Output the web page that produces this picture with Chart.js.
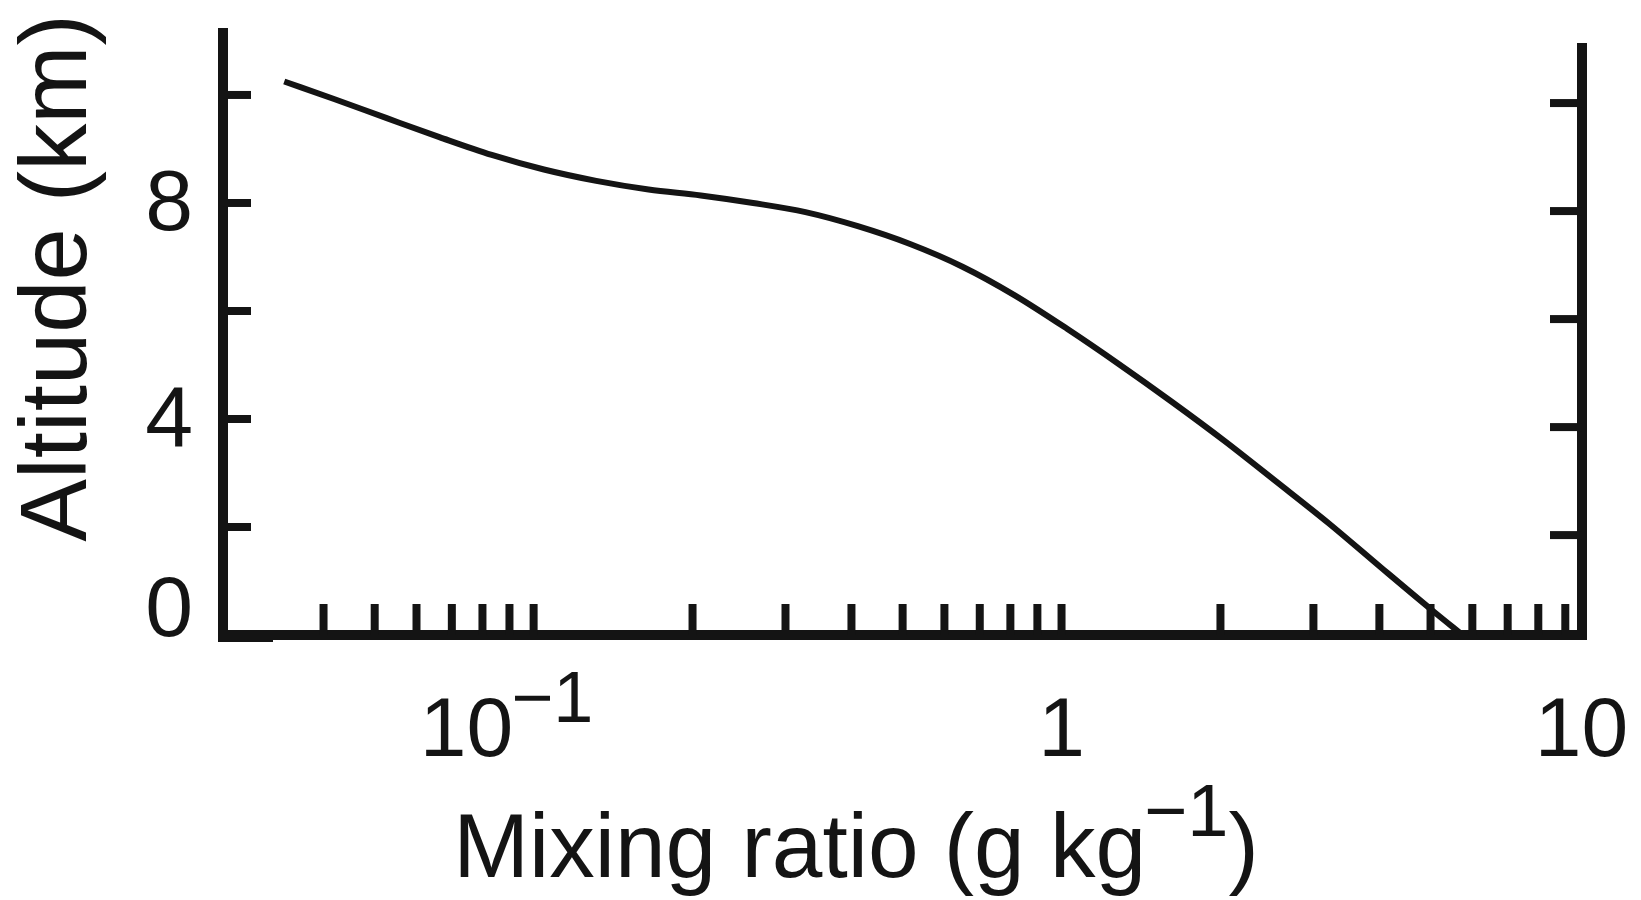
<!DOCTYPE html>
<html>
<head>
<meta charset="utf-8">
<title>Mixing ratio profile</title>
<script src="https://cdn.jsdelivr.net/npm/chart.js@4/dist/chart.umd.min.js"></script>
<style>
  html, body { margin: 0; padding: 0; background: #fff; }
  #wrap { width: 1641px; height: 900px; position: relative; }
</style>
</head>
<body>
<div id="wrap"><canvas id="myChart"></canvas></div>
<script>
// values (g/kg vs km)
const mixingRatio = [0.0337, 0.042, 0.0527, 0.0663, 0.0833, 0.1046, 0.1314, 0.1651, 0.2074, 0.2605, 0.3273, 0.4112, 0.5165, 0.6492, 0.8154, 1.0245, 1.287, 1.617, 2.032, 2.552, 3.206, 4.028, 5.06, 5.75];
const altitude    = [10.25, 9.92, 9.57, 9.22, 8.89, 8.62, 8.41, 8.25, 8.14, 8.00, 7.83, 7.57, 7.24, 6.82, 6.29, 5.67, 5.01, 4.32, 3.60, 2.84, 2.07, 1.25, 0.44, 0];

const xTicks = [0.04, 0.05, 0.06, 0.07, 0.08, 0.09, 0.1, 0.2, 0.3, 0.4, 0.5, 0.6, 0.7, 0.8, 0.9, 1, 2, 3, 4, 5, 6, 7, 8, 9];
const xLabels = [ { v: 0.1, base: '10', sup: '\u22121' }, { v: 1, base: '1', sup: '' }, { v: 10, base: '10', sup: '' } ];
const yTicks = [2, 4, 6, 8, 10];
const yLabels = [0, 4, 8];
const rightTicks = [2, 4, 6, 8, 10];

const FONT = '"Liberation Sans", Arial, Helvetica, sans-serif';
const INK = '#141414';

// axes, inward ticks and all texts are drawn here
const framePlugin = {
  id: 'framePlugin',
  afterDraw(chart) {
    const ctx = chart.ctx;
    const x = chart.scales.x, y = chart.scales.y, y2 = chart.scales.y2;
    const a = chart.chartArea;
    ctx.save();
    ctx.strokeStyle = INK;
    ctx.fillStyle = INK;
    ctx.lineCap = 'butt';

    // left axis + corner piece
    ctx.lineWidth = 10;
    ctx.beginPath();
    ctx.moveTo(a.left, a.top);
    ctx.lineTo(a.left, a.bottom + 7);
    ctx.stroke();
    ctx.lineWidth = 12;
    ctx.beginPath();
    ctx.moveTo(a.left - 5, a.bottom + 1);
    ctx.lineTo(a.left + 50, a.bottom + 1);
    ctx.stroke();
    // bottom axis
    ctx.lineWidth = 10;
    ctx.beginPath();
    ctx.moveTo(a.left + 48, a.bottom);
    ctx.lineTo(a.right + 5, a.bottom);
    ctx.stroke();
    // right axis
    ctx.beginPath();
    ctx.moveTo(a.right, a.top + 15);
    ctx.lineTo(a.right, a.bottom);
    ctx.stroke();

    // ticks
    ctx.lineWidth = 8;
    xTicks.forEach(v => {
      const px = x.getPixelForValue(v);
      ctx.beginPath();
      ctx.moveTo(px, a.bottom);
      ctx.lineTo(px, a.bottom - 31);
      ctx.stroke();
    });
    yTicks.forEach(v => {
      const py = y.getPixelForValue(v);
      ctx.beginPath();
      ctx.moveTo(a.left, py);
      ctx.lineTo(a.left + 28, py);
      ctx.stroke();
    });
    rightTicks.forEach(v => {
      const py = y2.getPixelForValue(v);
      ctx.beginPath();
      ctx.moveTo(a.right, py);
      ctx.lineTo(a.right - 32, py);
      ctx.stroke();
    });

    // y tick labels
    ctx.font = '86px ' + FONT;
    ctx.textAlign = 'right';
    ctx.textBaseline = 'middle';
    yLabels.forEach(v => {
      let py = y.getPixelForValue(v);
      if (v === 0) py -= 26; // sits above the corner in the original
      ctx.fillText(String(v), a.left - 30, py + 3);
    });

    // x tick labels with superscripts
    ctx.textBaseline = 'alphabetic';
    ctx.textAlign = 'left';
    xLabels.forEach(l => {
      ctx.font = '84px ' + FONT;
      const wb = ctx.measureText(l.base).width;
      ctx.font = '72px ' + FONT;
      const ws = l.sup ? ctx.measureText(l.sup).width : 0;
      let left = x.getPixelForValue(l.v) - (wb + ws) / 2;
      if (l.sup) left -= 26;
      if (l.v === 10) left -= 8;
      ctx.font = '84px ' + FONT;
      ctx.fillText(l.base, left, 756);
      if (l.sup) {
        ctx.font = '72px ' + FONT;
        ctx.fillText(l.sup, left + wb - 2, 722);
      }
    });

    // x axis title
    const t1 = 'Mixing ratio (g kg', t2 = '\u22121', t3 = ')';
    ctx.font = '91px ' + FONT;
    const w1 = ctx.measureText(t1).width;
    const w3 = ctx.measureText(t3).width;
    ctx.font = '74px ' + FONT;
    const w2 = ctx.measureText(t2).width;
    const tl = 857 - (w1 + w2 + w3) / 2;
    ctx.font = '91px ' + FONT;
    ctx.fillText(t1, tl, 877);
    ctx.fillText(t3, tl + w1 + w2 - 2, 877);
    ctx.font = '74px ' + FONT;
    ctx.fillText(t2, tl + w1 - 2, 836);

    // y axis title
    ctx.save();
    ctx.translate(86, 278);
    ctx.rotate(-Math.PI / 2);
    ctx.font = '94px ' + FONT;
    ctx.textAlign = 'center';
    ctx.fillText('Altitude (km)', 0, 0);
    ctx.restore();

    ctx.restore();
  }
};

const points = mixingRatio.map((v, i) => ({ x: v, y: altitude[i] }));

new Chart(document.getElementById('myChart'), {
  type: 'line',
  data: {
    datasets: [{
      label: 'Mixing ratio',
      data: points,
      borderColor: INK,
      borderWidth: 6,
      pointRadius: 0,
      cubicInterpolationMode: 'monotone',
      fill: false
    }]
  },
  options: {
    responsive: true,
    maintainAspectRatio: false,
    animation: false,
    events: [],
    layout: { padding: { left: 223, right: 59, top: 28, bottom: 265 } },
    plugins: { legend: { display: false }, tooltip: { enabled: false } },
    scales: {
      x: { type: 'logarithmic', min: 0.0258, max: 9.68, display: false },
      y: { type: 'linear', min: 0, max: 11.24, display: false },
      y2: { type: 'linear', min: 0.15, max: 11.39, display: false, position: 'right' }
    }
  },
  plugins: [framePlugin]
});
</script>
</body>
</html>
